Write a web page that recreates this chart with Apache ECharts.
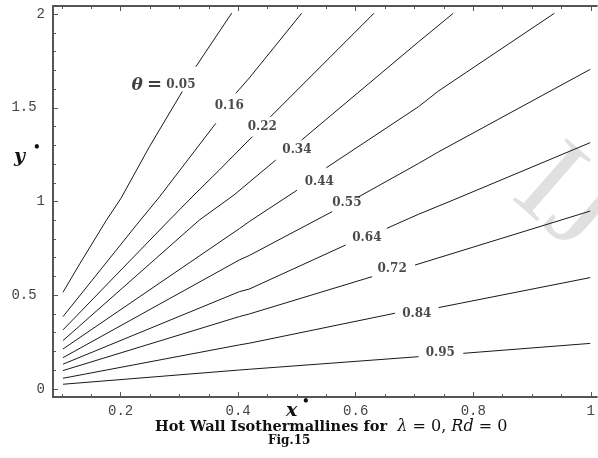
<!DOCTYPE html>
<html>
<head>
<meta charset="utf-8">
<script src="https://cdn.jsdelivr.net/npm/echarts@6/dist/echarts.min.js"></script>
<style>
  html, body { margin: 0; padding: 0; background: #fff; }
  #chart { width: 598px; height: 458px; }
</style>
</head>
<body>
<div id="chart"></div>
<script>
// isotherms, [x*, y*] points; null = gap where the level label sits
var th005 = [[0.102,0.516],[0.131,0.670],[0.176,0.901],[0.201,1.019],[0.249,1.292],[0.305,1.587],null,[0.328,1.719],[0.389,2.005]];
var th016 = [[0.102,0.386],[0.227,0.875],[0.266,1.024],[0.362,1.417],null,[0.396,1.577],[0.419,1.659],[0.508,2.004]];
var th022 = [[0.102,0.315],[0.283,0.901],[0.325,1.035],[0.368,1.168],[0.424,1.346],null,[0.455,1.452],[0.631,2.004]];
var th034 = [[0.102,0.258],[0.334,0.901],[0.393,1.035],[0.464,1.221],null,[0.508,1.328],[0.707,1.852],[0.766,2.004]];
var th044 = [[0.102,0.213],[0.402,0.855],[0.419,0.893],[0.500,1.060],null,[0.550,1.180],[0.707,1.506],[0.741,1.590],[0.938,2.004]];
var th055 = [[0.102,0.167],[0.402,0.688],[0.419,0.712],[0.560,0.946],null,[0.605,1.025],[0.707,1.203],[0.741,1.265],[0.999,1.705]];
var th064 = [[0.102,0.132],[0.402,0.519],[0.419,0.533],[0.583,0.768],null,[0.653,0.857],[0.707,0.932],[0.766,1.008],[0.999,1.314]];
var th072 = [[0.102,0.098],[0.402,0.386],[0.419,0.400],[0.628,0.599],null,[0.701,0.661],[0.999,0.949]];
var th084 = [[0.102,0.057],[0.402,0.235],[0.419,0.244],[0.667,0.404],null,[0.741,0.434],[0.999,0.594]];
var th095 = [[0.102,0.025],[0.402,0.101],[0.419,0.105],[0.707,0.172],null,[0.783,0.190],[0.999,0.243]];

var isotherms = [th005, th016, th022, th034, th044, th055, th064, th072, th084, th095];

// level labels
var labelText = ['θ = 0.05', '0.16', '0.22', '0.34', '0.44', '0.55', '0.64', '0.72', '0.84', '0.95'];
var labelX = [0.273, 0.385, 0.441, 0.500, 0.538, 0.585, 0.619, 0.662, 0.704, 0.744];
var labelY = [1.621, 1.509, 1.399, 1.275, 1.106, 0.990, 0.807, 0.640, 0.400, 0.190];

// ticks
var xMajorTicks = [0.2, 0.4, 0.6, 0.8, 1];
var xMinorTicks = [0.1, 0.15, 0.25, 0.3, 0.35, 0.45, 0.5, 0.55, 0.65, 0.7, 0.75, 0.85, 0.9, 0.95];
var yMajorTicks = [0, 0.5, 1, 1.5, 2];
var yMinorTicks = [0.1, 0.2, 0.3, 0.4, 0.6, 0.7, 0.8, 0.9, 1.1, 1.2, 1.3, 1.4, 1.6, 1.7, 1.8, 1.9];

var frameColor = '#555';
var XMIN = 0.085, XMAX = 1.0102, YMIN = -0.043, YMAX = 2.043;

function xAxisDef(pos, ticks, len, withLine, withLabels) {
    return {
        type: 'value', position: pos, min: XMIN, max: XMAX,
        axisLine: { show: withLine, onZero: false, lineStyle: { color: frameColor, width: 2 } },
        axisTick: { show: true, inside: true, length: len, customValues: ticks,
                    lineStyle: { color: frameColor, width: 1 } },
        axisLabel: withLabels ? {
            show: true, customValues: ticks, margin: 7,
            fontFamily: 'Liberation Mono', fontSize: 14, color: '#444'
        } : { show: false },
        splitLine: { show: false }
    };
}

function yAxisDef(ticks, len, withLine, withLabels) {
    return {
        type: 'value', position: 'left', min: YMIN, max: YMAX,
        axisLine: { show: withLine, onZero: false, lineStyle: { color: frameColor, width: 2 } },
        axisTick: { show: true, inside: true, length: len, customValues: ticks,
                    lineStyle: { color: frameColor, width: 1 } },
        axisLabel: withLabels ? {
            show: true, customValues: ticks, margin: 8,
            fontFamily: 'Liberation Mono', fontSize: 14, color: '#444',
            formatter: function (v) { return Math.round(v) === v ? String(v) : v + ' '; }
        } : { show: false },
        splitLine: { show: false }
    };
}

function contourName(i) { return labelText[i].replace('θ = ', ''); }

var series = isotherms.map(function (pts, i) {
    return {
        type: 'line', name: contourName(i), xAxisIndex: 0, yAxisIndex: 0,
        symbol: 'none', smooth: false, connectNulls: false, silent: true,
        lineStyle: { color: '#1a1a1a', width: 1 },
        data: pts.map(function (p) { return p ? p : ['-', '-']; })
    };
});

series.push({
    type: 'scatter', xAxisIndex: 0, yAxisIndex: 0, symbolSize: 0, silent: true,
    data: labelX.map(function (x, i) { return { name: labelText[i], value: [x, labelY[i]] }; }),
    label: {
        show: true, position: 'inside',
        fontFamily: 'DejaVu Serif', fontWeight: 'bold', fontSize: 12, color: '#1c1c1c',
        formatter: function (p) {
            if (p.name.indexOf('θ') === 0) return '{t|θ} {e|=} ' + p.name.replace('θ = ', '');
            return p.name;
        },
        rich: {
            t: { fontFamily: 'DejaVu Serif', fontStyle: 'italic', fontWeight: 'bold', fontSize: 17, color: '#111' },
            e: { fontFamily: 'DejaVu Serif', fontSize: 18, color: '#111' }
        }
    }
});

var chart = echarts.init(document.getElementById('chart'), null, { renderer: 'canvas' });
chart.setOption({
    animation: false,
    backgroundColor: '#fff',
    grid: { left: 53, right: 0, top: 6, bottom: 61 },
    xAxis: [
        xAxisDef('bottom', xMajorTicks, 5, true, true),
        xAxisDef('bottom', xMinorTicks, 3, false, false),
        xAxisDef('top', xMajorTicks, 5, true, false),
        xAxisDef('top', xMinorTicks, 3, false, false)
    ],
    yAxis: [
        yAxisDef(yMajorTicks, 5, true, true),
        yAxisDef(yMinorTicks, 3, false, false)
    ],
    series: series,
    graphic: [
        // faint watermark at the right edge
        { type: 'text', x: 572, y: 125, rotation: -0.72, z: -1,
          style: { text: 'IJ', font: '125px "Liberation Serif"', fill: 'rgba(0,0,0,0.12)' } },
        // axis names
        { type: 'text', left: 14, top: 148,
          style: { text: 'y', font: 'italic bold 19px "DejaVu Serif"', fill: '#111' } },
        { type: 'text', left: 33, top: 142,
          style: { text: '•', font: 'bold 12px "DejaVu Serif"', fill: '#111' } },
        { type: 'text', left: 286, top: 402,
          style: { text: 'x', font: 'italic bold 19px "DejaVu Serif"', fill: '#111' } },
        { type: 'text', left: 302, top: 396,
          style: { text: '•', font: 'bold 12px "DejaVu Serif"', fill: '#111' } },
        // caption
        { type: 'text', left: 155, top: 419,
          style: {
              text: '{b|Hot Wall Isothermallines for}  {i|λ} = 0, {i|Rd} = 0',
              font: '16px "DejaVu Serif"', fill: '#111',
              rich: {
                  b: { fontFamily: 'DejaVu Serif', fontWeight: 'bold', fontSize: 14.5, fill: '#111' },
                  i: { fontFamily: 'DejaVu Serif', fontStyle: 'italic', fontSize: 16, fill: '#111' }
              }
          } },
        { type: 'text', left: 268, top: 435,
          style: { text: 'Fig.15', font: 'bold 12px "DejaVu Serif"', fill: '#111' } }
    ]
});
</script>
</body>
</html>
